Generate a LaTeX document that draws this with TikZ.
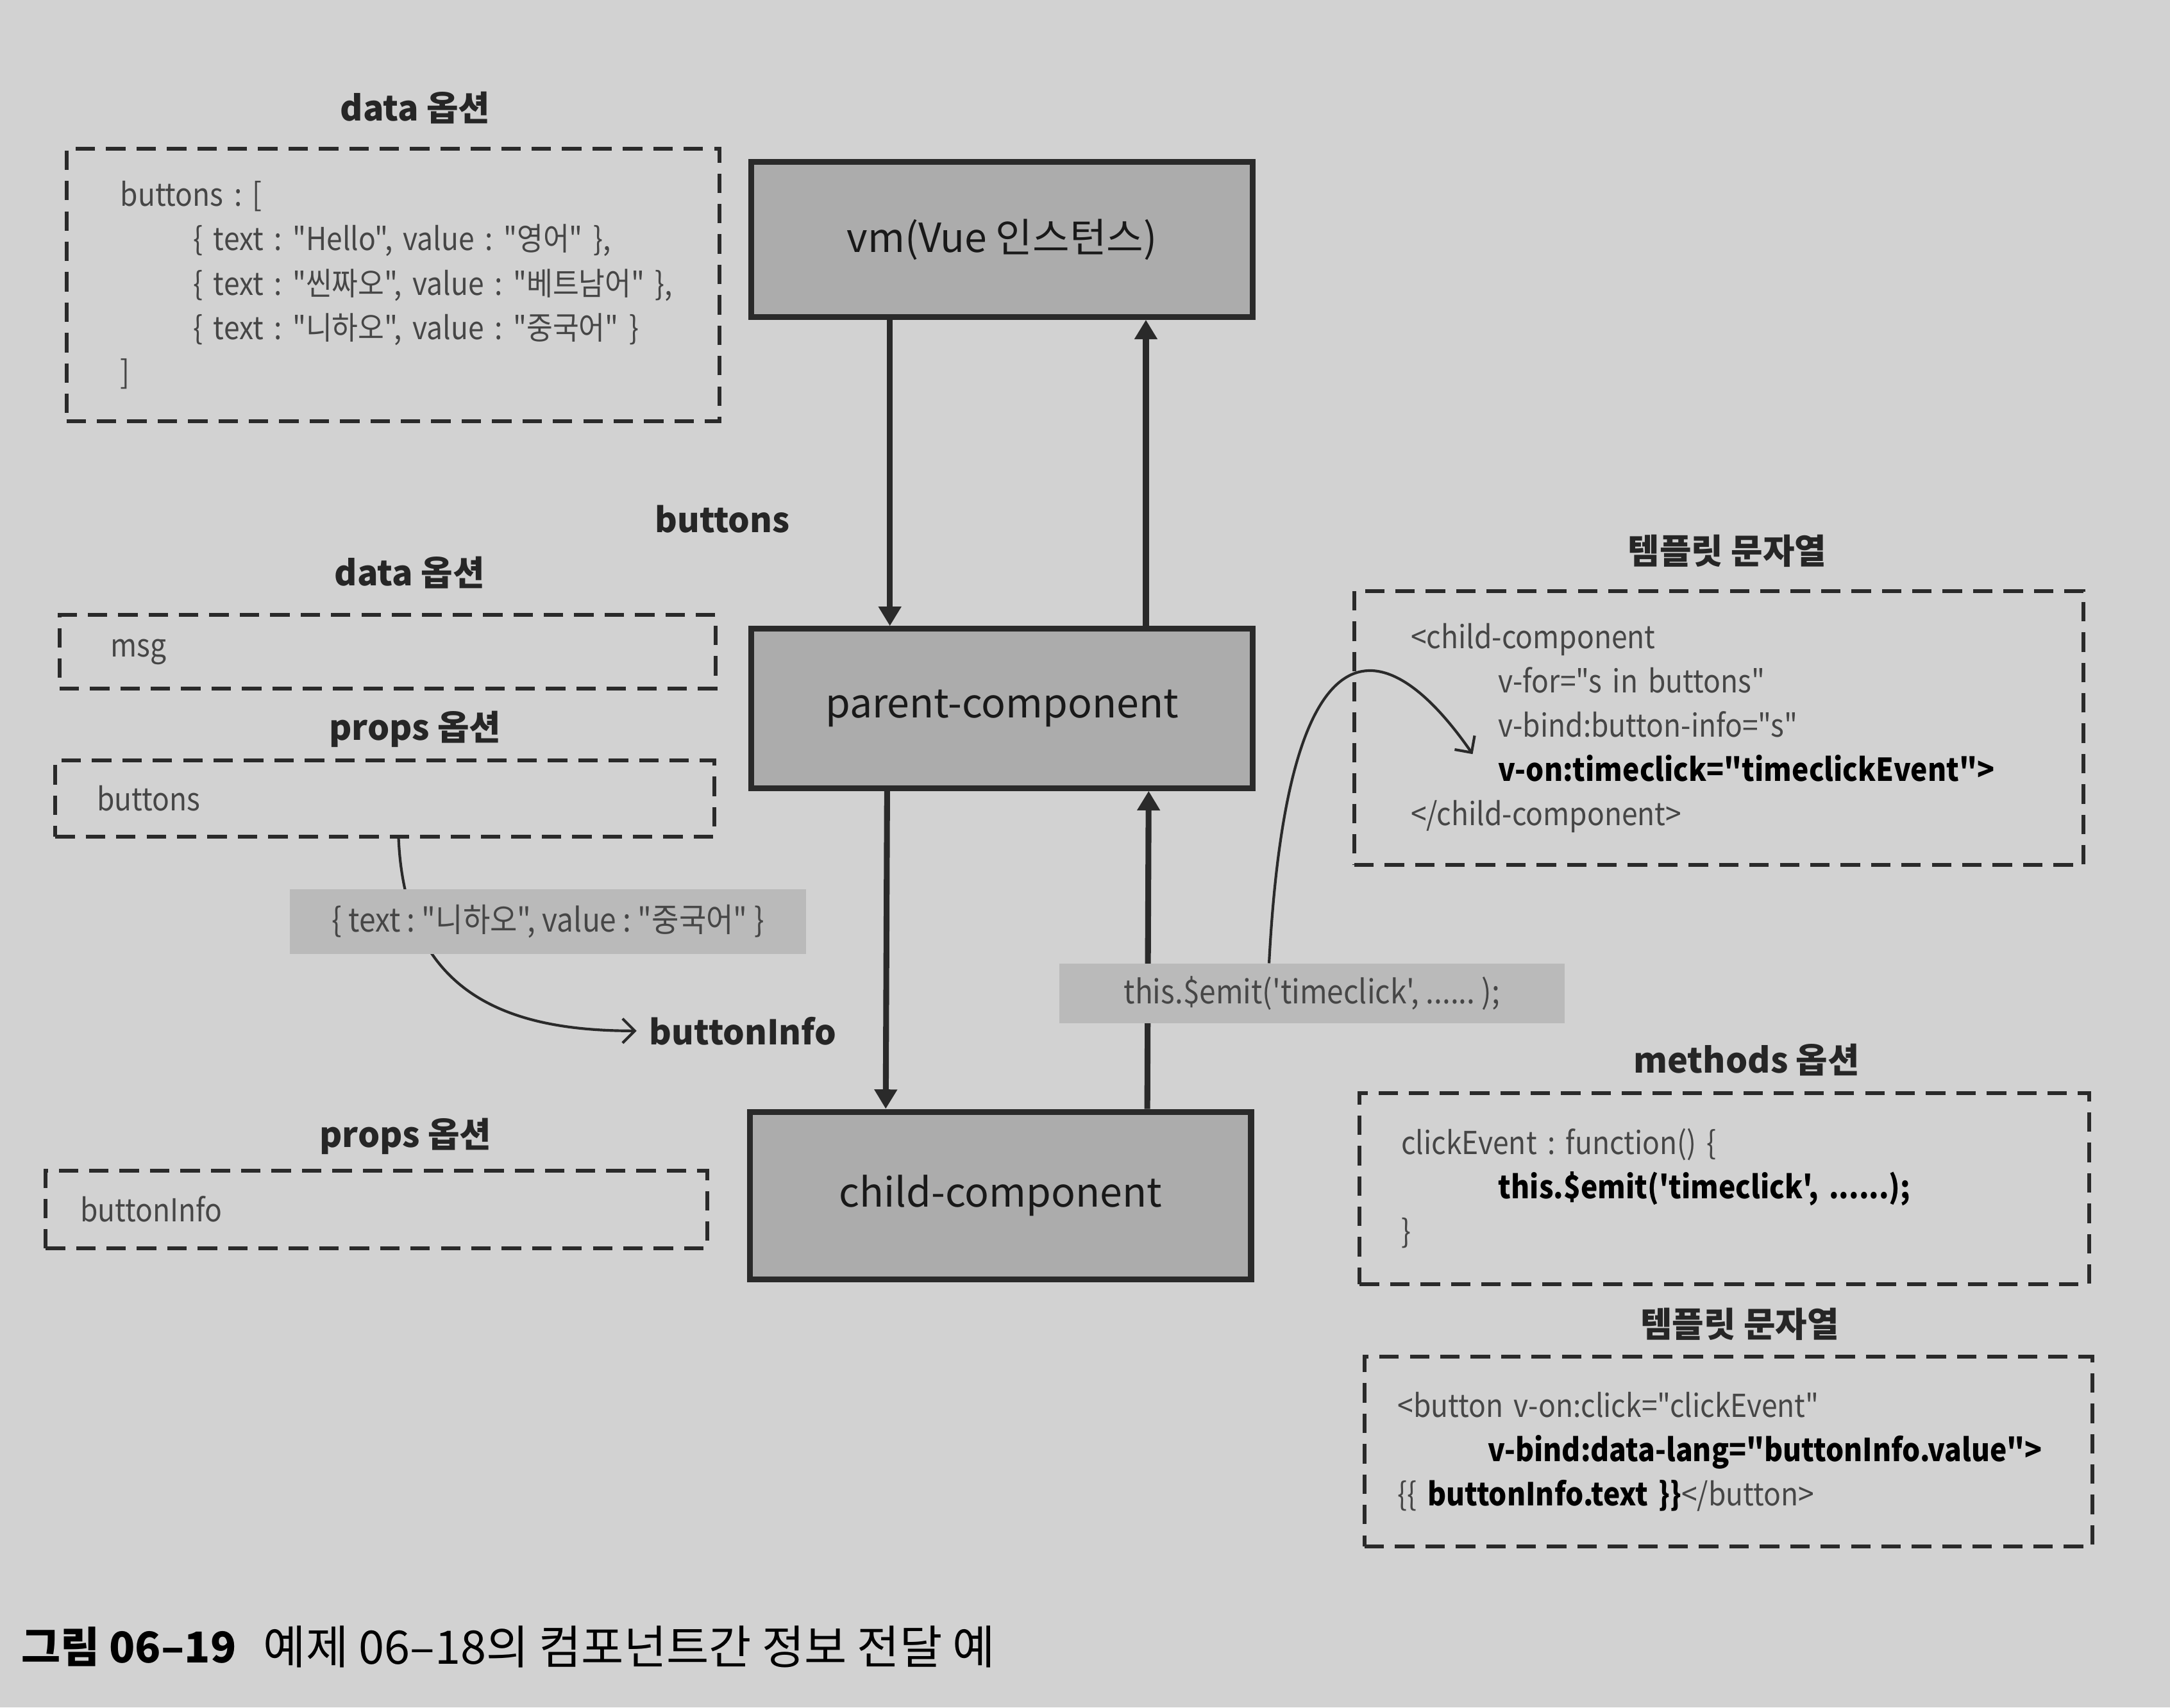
\documentclass[tikz,border=0pt]{standalone}
\usepackage{fontspec}
\usepackage{xcolor}
\usepackage{tikz}
\usetikzlibrary{calc,arrows.meta}
\setmainfont{Noto Sans CJK KR}[Ligatures=TeXOff]
\newfontfamily\codefont{Noto Sans CJK KR}[Ligatures=TeXOff, FakeStretch=0.9]
\definecolor{pagegray}{RGB}{210, 210, 210}
\definecolor{boxgray}{RGB}{172, 172, 172}
\definecolor{taggray}{RGB}{186, 186, 186}
\definecolor{inkgray}{RGB}{70, 70, 70}
\definecolor{linedark}{RGB}{42, 42, 42}
\newdimen\px
\px=0.2mm
\frenchspacing
\hyphenpenalty=10000
\exhyphenpenalty=10000

\tikzset{
  comp/.style={draw=linedark, line width=2.4pt, fill=boxgray, minimum width=362\px,
    inner sep=0pt, font=\fontsize{16.5}{20}\selectfont, text=black!90},
  optbox/.style={draw=linedark, line width=1.6pt, dash pattern=on 8pt off 4.5pt,
    align=left, inner ysep=0pt, font=\codefont\fontsize{13}{18.2}\selectfont, text=inkgray},
  optitle/.style={font=\bfseries\fontsize{14.2}{16}\selectfont, text=black!85},
  tag/.style={fill=taggray, inner sep=0pt, font=\codefont\fontsize{13.5}{15}\selectfont, text=inkgray},
  flow/.style={draw=linedark, line width=2.4pt, -{Triangle[width=9pt,length=8pt]}},
  swoop/.style={draw=linedark, line width=1.1pt, -{Straight Barb[length=5pt,width=10pt]}},
  hint/.style={font=\bfseries\fontsize{14}{17}\selectfont, text=black!85}
}

\begin{document}
\begin{tikzpicture}[x=0.2mm, y=-0.2mm]
  \fill[pagegray] (0,0) rectangle (1568,1234);

  \node[comp, minimum height=112\px] (vm) at (724,173) {vm(Vue 인스턴스)};
  \node[comp, minimum height=115\px] (parent) at (724,512) {parent-component};
  \node[comp, minimum height=121\px] (child) at (723,864) {child-component};

  \draw[flow] ([xshift=-81\px]vm.south) -- ([xshift=-81\px]parent.north);
  \draw[flow] ([xshift=104\px]parent.north) -- ([xshift=104\px]vm.south);
  \draw[flow] ([xshift=-83\px]parent.south) -- ([xshift=-83\px]child.north);
  \node[hint] (btnlabel) at (522,375) {buttons};

  \node[optitle] (datatitle) at (300,78) {data 옵션};
  \node[optbox, text width=394\px, inner xsep=39\px, minimum height=197\px] (databox) at (284,206) {
    buttons : [\\
    \hspace*{30pt}\mbox{\{ text : "Hello", value : "영어" \},}\\
    \hspace*{30pt}\mbox{\{ text : "씬짜오", value : "베트남어" \},}\\
    \hspace*{30pt}\mbox{\{ text : "니하오", value : "중국어" \}}\\
    ]
  };

  \node[optitle] (msgtitle) at (296,414) {data 옵션};
  \node[optbox, text width=400\px, inner xsep=37\px, minimum height=53\px] (msgbox) at (280,471) {msg};
  \node[optitle] (proptitle) at (300,527) {props 옵션};
  \node[optbox, text width=416\px, inner xsep=30\px, minimum height=55\px] (propbox) at (278,577) {buttons};

  \node[hint, anchor=west, inner xsep=9\px] (infolabel) at (460,745) {buttonInfo};
  \draw[swoop] ([xshift=10\px]propbox.south) .. controls +(5,115) and +(-90,0) .. (infolabel.west);
  \node[tag, minimum width=373\px, minimum height=47\px] (picked) at (396,666)
    {\{ text : "니하오", value : "중국어" \}};

  \node[optitle] (infotitle) at (293,821) {props 옵션};
  \node[optbox, text width=428\px, inner xsep=25\px, minimum height=56\px] (infobox) at (272,874) {buttonInfo};

  \draw[flow] ([xshift=106\px]child.north) -- ([xshift=106\px]parent.south);
  \node[tag, minimum width=365\px, minimum height=43\px] (emit) at (948,718)
    {this.\$emit('timeclick', ...... );};

  \node[optitle] (tpltitle) at (1248,398) {템플릿 문자열};
  \node[optbox, text width=445\px, inner xsep=41\px, minimum height=198\px] (tplbox) at (1242,526) {
    <child-component\\
    \hspace*{36pt}v-for="s in buttons"\\
    \hspace*{36pt}v-bind:button-info="s"\\
    \hspace*{36pt}\textbf{\color{black}v-on:timeclick="timeclickEvent">}\\
    </child-component>
  };
  \coordinate (vonmark) at ([xshift=87\px,yshift=-19\px]tplbox.west);
  \draw[swoop] ([xshift=-31\px]emit.north) .. controls +(13,-250) and +(-66,-95) .. (vonmark);

  \node[optitle] (methtitle) at (1262,766) {methods 옵션};
  \node[optbox, text width=467\px, inner xsep=30\px, minimum height=138\px] (methbox) at (1246,859) {
    clickEvent : function() \{\\
    \hspace*{40pt}\textbf{\color{black}this.\$emit('timeclick', ......);}\\
    \}
  };

  \node[optitle] (btntitle) at (1257,957) {템플릿 문자열};
  \node[optbox, text width=478\px, inner xsep=24\px, minimum height=137\px] (btnbox) at (1249,1049) {
    <button v-on:click="clickEvent"\\
    \hspace*{37pt}\textbf{\color{black}v-bind:data-lang="buttonInfo.value">}\\
    \{\{ \textbf{\color{black}buttonInfo.text \}\}}</button>
  };

  \node[anchor=west, inner sep=0pt, font=\bfseries\fontsize{17.5}{20}\selectfont] (fignum) at (15,1190) {그림 06–19};
  \node[anchor=west, inner sep=0pt, font=\fontsize{19}{20}\selectfont] (figcap) at (190,1190) {예제 06–18의 컴포넌트간 정보 전달 예};
\end{tikzpicture}
\end{document}
